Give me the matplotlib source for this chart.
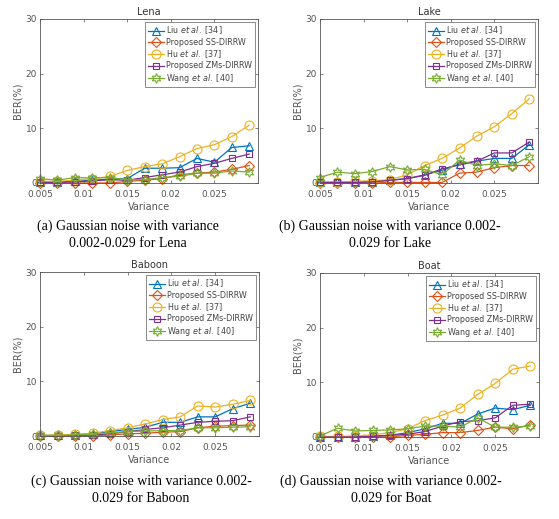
import matplotlib
matplotlib.use("Agg")
import matplotlib.pyplot as plt

# variance values on the x axis
variance = [0.005, 0.007, 0.009, 0.011, 0.013, 0.015, 0.017,
            0.019, 0.021, 0.023, 0.025, 0.027, 0.029]

labels = [r"Liu $\it{et\ al.}$ [34]", "Proposed SS-DIRRW", r"Hu $\it{et\ al.}$ [37]",
          "Proposed ZMs-DIRRW", r"Wang $\it{et\ al.}$ [40]"]

# BER(%) values, order: Liu, SS-DIRRW, Hu, ZMs-DIRRW, Wang
lena_liu = [0.2, 0.2, 0.3, 0.5, 0.7, 0.8, 2.7, 2.7, 2.8, 4.5, 3.8, 6.5, 6.8]
lena_ss = [0.0, 0.0, 0.0, 0.0, 0.0, 0.3, 0.5, 0.8, 1.5, 1.8, 2.0, 2.5, 3.2]
lena_hu = [0.3, 0.3, 0.5, 0.8, 1.2, 2.3, 3.0, 3.5, 4.8, 6.3, 7.0, 8.5, 10.6]
lena_zms = [0.1, 0.1, 0.2, 0.4, 0.6, 0.5, 1.0, 1.5, 2.0, 3.0, 3.6, 4.5, 5.3]
lena_wang = [0.8, 0.5, 1.0, 0.9, 1.0, 0.6, 0.6, 1.0, 1.2, 1.8, 1.8, 2.2, 2.0]

lake_liu = [0.1, 0.1, 0.1, 0.2, 0.5, 0.8, 1.5, 2.3, 3.5, 4.0, 4.5, 4.5, 7.0]
lake_ss = [0.0, 0.0, 0.0, 0.0, 0.1, 0.1, 0.1, 0.1, 1.8, 2.0, 2.8, 3.2, 3.2]
lake_hu = [0.2, 0.2, 0.3, 0.4, 0.6, 1.5, 3.2, 4.5, 6.4, 8.6, 10.3, 12.7, 15.4]
lake_zms = [0.1, 0.1, 0.1, 0.2, 0.5, 0.8, 1.4, 2.6, 3.3, 4.0, 5.5, 5.5, 7.5]
lake_wang = [1.0, 2.0, 1.7, 2.1, 3.0, 2.4, 2.5, 1.5, 4.2, 3.2, 3.5, 3.2, 4.8]

baboon_liu = [0.1, 0.1, 0.2, 0.4, 0.8, 1.2, 1.6, 2.5, 2.5, 3.5, 3.5, 5.0, 6.0]
baboon_ss = [0.0, 0.0, 0.0, 0.0, 0.2, 0.4, 0.5, 0.7, 0.8, 1.5, 1.8, 1.9, 2.0]
baboon_hu = [0.1, 0.2, 0.3, 0.5, 1.0, 1.5, 2.2, 3.0, 3.5, 5.5, 5.3, 5.8, 6.5]
baboon_zms = [0.0, 0.0, 0.1, 0.2, 0.4, 0.8, 1.2, 1.5, 2.0, 2.5, 2.7, 2.8, 3.5]
baboon_wang = [0.1, 0.1, 0.2, 0.3, 0.6, 0.8, 0.9, 1.0, 1.0, 1.5, 1.5, 1.6, 1.7]

boat_liu = [0.0, 0.0, 0.0, 0.2, 0.3, 0.8, 1.5, 2.5, 2.5, 4.2, 5.3, 5.0, 5.8]
boat_ss = [0.0, 0.0, 0.0, 0.0, 0.0, 0.3, 0.5, 0.8, 0.8, 1.2, 1.8, 1.5, 2.2]
boat_hu = [0.1, 0.1, 0.2, 0.4, 0.8, 1.5, 3.0, 4.0, 5.3, 7.8, 9.8, 12.4, 13.0]
boat_zms = [0.0, 0.0, 0.0, 0.1, 0.3, 0.5, 1.0, 2.0, 2.8, 3.0, 3.5, 5.8, 6.0]
boat_wang = [0.2, 1.6, 1.1, 1.2, 1.3, 1.5, 2.0, 2.0, 1.8, 3.5, 1.8, 1.8, 2.0]

titles = ["Lena", "Lake", "Baboon", "Boat"]
captions = ["(a) Gaussian noise with variance\n0.002-0.029 for Lena",
            "(b) Gaussian noise with variance 0.002-\n0.029 for Lake",
            "(c) Gaussian noise with variance 0.002-\n0.029 for Baboon",
            "(d) Gaussian noise with variance 0.002-\n0.029 for Boat"]

colors = ["#0072BD", "#D95319", "#EDB120", "#7E2F8E", "#77AC30"]
markers = ["^", "D", "o", "s", (6, 1, 0)]
msizes = [6, 5, 6.5, 5, 7]

W, H = 559, 519
fig = plt.figure(figsize=(W / 100, H / 100), dpi=100)


def panel(rect, title, series):
    """Draw one BER vs variance panel. rect in pixels: left, top, right, bottom"""
    l, t, r, b = rect
    ax = fig.add_axes([l / W, 1 - b / H, (r - l) / W, (b - t) / H])
    for ys, c, m, ms, lab in zip(series, colors, markers, msizes, labels):
        ax.plot(variance, ys, color=c, marker=m, markersize=ms,
                markerfacecolor="none", markeredgewidth=0.8, linewidth=0.9,
                label=lab, clip_on=False)
    ax.set_xlim(0.005, 0.03)
    ax.set_ylim(0, 30)
    ax.set_xticks([0.005, 0.01, 0.015, 0.02, 0.025])
    ax.set_xticklabels(["0.005", "0.01", "0.015", "0.02", "0.025"])
    ax.set_yticks([0, 10, 20, 30])
    ax.tick_params(direction="in", length=2, width=0.5, labelsize=6.5,
                   colors="#555555", top=True, right=True, pad=2)
    ax.tick_params(axis="x", pad=5)
    for s in ax.spines.values():
        s.set_color("#555555")
        s.set_linewidth(0.6)
    ax.set_title(title, fontsize=7, color="#333333", pad=3)
    ax.set_xlabel("Variance", fontsize=7, color="#555555", labelpad=2)
    ax.set_ylabel("BER(%)", fontsize=7, color="#555555", labelpad=2)
    leg = ax.legend(loc="upper right", fontsize=5.8, frameon=True, fancybox=False,
                    handlelength=2.0, handletextpad=0.3, labelspacing=0.18,
                    borderpad=0.3, borderaxespad=0.4)
    leg.get_frame().set_edgecolor("#555555")
    leg.get_frame().set_linewidth(0.6)
    for txt in leg.get_texts():
        txt.set_color("#444444")
    return ax


panel((40, 19, 258, 183), titles[0], [lena_liu, lena_ss, lena_hu, lena_zms, lena_wang])
panel((320, 19, 538, 183), titles[1], [lake_liu, lake_ss, lake_hu, lake_zms, lake_wang])
panel((40, 272, 259, 436), titles[2], [baboon_liu, baboon_ss, baboon_hu, baboon_zms, baboon_wang])
panel((320, 273, 539, 437), titles[3], [boat_liu, boat_ss, boat_hu, boat_zms, boat_wang])

cap_pos = [(128, 235), (390, 235), (141, 490), (391, 490)]
for (cx, cy), cap in zip(cap_pos, captions):
    fig.text(cx / W, 1 - cy / H, cap, ha="center", va="center", fontsize=10,
             family="Liberation Serif", linespacing=1.35)

fig.savefig("out.png", dpi=100)
